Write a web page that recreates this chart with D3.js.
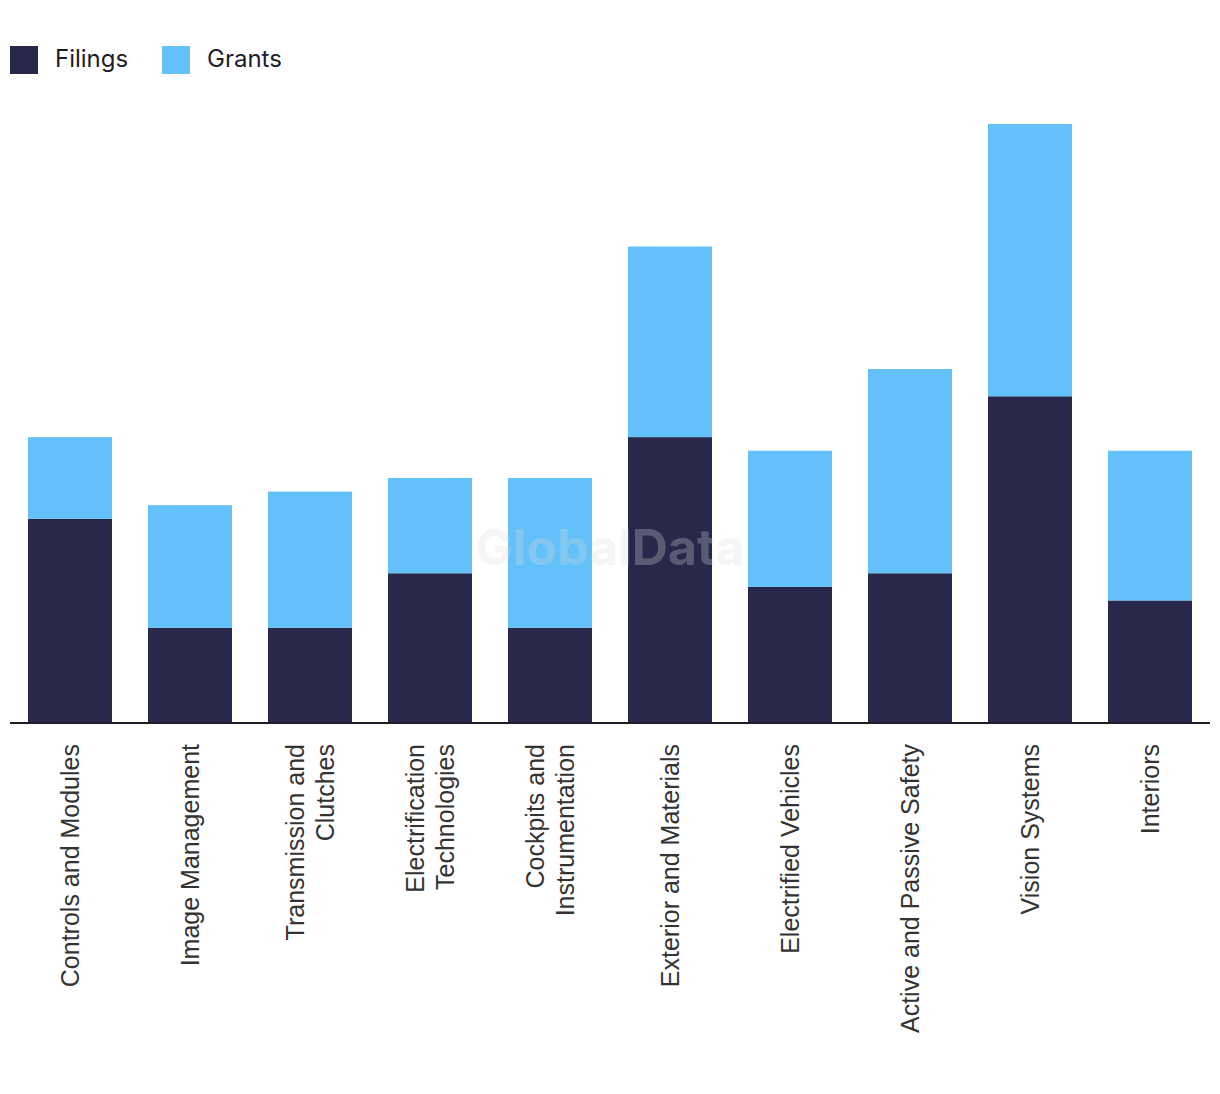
<!DOCTYPE html>
<html><head><meta charset="utf-8">
<script src="https://cdn.jsdelivr.net/npm/d3@7"></script>
<style>body{margin:0;background:#fff}svg{display:block}</style>
</head><body>
<script>
const categories = ["Controls and Modules","Image Management","Transmission and Clutches","Electrification Technologies","Cockpits and Instrumentation","Exterior and Materials","Electrified Vehicles","Active and Passive Safety","Vision Systems","Interiors"];
const labelLines = [["Controls and Modules"],["Image Management"],["Transmission and","Clutches"],["Electrification","Technologies"],["Cockpits and","Instrumentation"],["Exterior and Materials"],["Electrified Vehicles"],["Active and Passive Safety"],["Vision Systems"],["Interiors"]];
const filings = [15,7,7,11,7,21,10,11,24,9];
const grants  = [6,9,10,7,11,14,10,15,20,11];
const seriesNames = ["Filings","Grants"];
const colors = ["#27284b","#62c1f9"];

const W=1220,H=1094;
const svg=d3.select("body").append("svg").attr("width",W).attr("height",H);
const x=d3.scaleBand().domain(categories).range([10,1210]).paddingInner(0.3).paddingOuter(0.15);
const y=d3.scaleLinear().domain([0,44]).range([723,124]);

const data=categories.map((c,i)=>({cat:c,Filings:filings[i],Grants:grants[i]}));
const stack=d3.stack().keys(seriesNames)(data);
svg.append("g").selectAll("g").data(stack).join("g").attr("fill",(d,i)=>colors[i])
  .selectAll("rect").data(d=>d).join("rect")
  .attr("x",d=>x(d.data.cat)).attr("width",x.bandwidth())
  .attr("y",d=>y(d[1])).attr("height",d=>y(d[0])-y(d[1]));

// watermark
svg.append("text").attr("x",610).attr("y",565).attr("text-anchor","middle")
  .attr("font-family","Inter, 'Open Sans', sans-serif").attr("font-weight",700).attr("font-size",50)
  .attr("fill","#dcdcdc").attr("opacity",0.28).text("GlobalData");

// axis
const ax=svg.append("g").attr("transform","translate(0,723)").call(d3.axisBottom(x).tickSize(0).tickFormat(""));
ax.select(".domain").attr("stroke","#1d1d2b").attr("stroke-width",2).attr("d","M10,0H1210");

const lab=svg.append("g");
categories.forEach((c,i)=>{
  const lines=labelLines[i];
  const cx=x(c)+x.bandwidth()/2;
  const n=lines.length, lh=30;
  lines.forEach((ln,j)=>{
    const off=(j-(n-1)/2)*lh;
    lab.append("text").attr("transform",`translate(${cx+off+9},744) rotate(-90)`)
      .attr("text-anchor","end").attr("font-family","'Liberation Sans', Arial, sans-serif")
      .attr("font-size",25).attr("fill","#333").text(ln);
  });
});

// legend
const leg=svg.append("g");
const lx=[10,162];
seriesNames.forEach((s,i)=>{
  leg.append("rect").attr("x",lx[i]).attr("y",46).attr("width",28).attr("height",28).attr("fill",colors[i]);
  leg.append("text").attr("x",lx[i]+45).attr("y",67).attr("font-family","Inter, 'Open Sans', sans-serif")
    .attr("font-size",24).attr("fill","#1d1d2b").text(s);
});
</script>
</body></html>
